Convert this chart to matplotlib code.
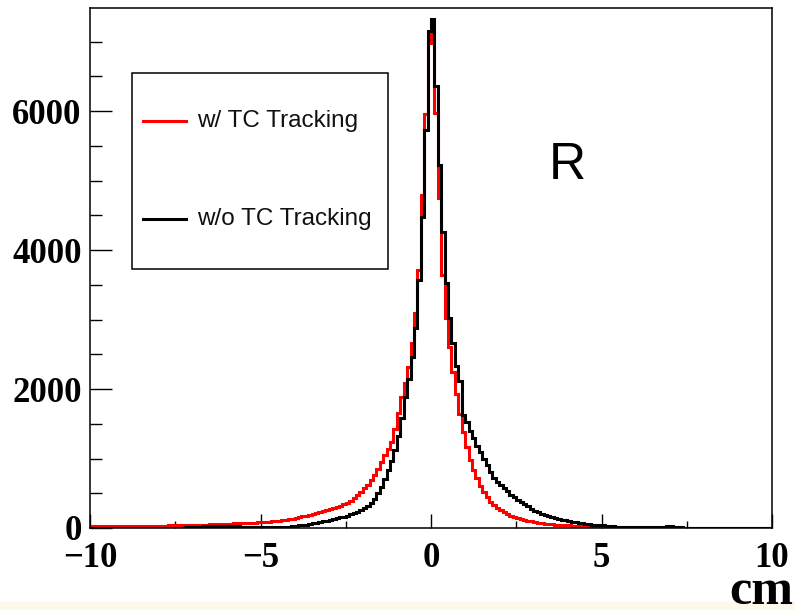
import numpy as np
import matplotlib
matplotlib.use("Agg")
import matplotlib.pyplot as plt
from matplotlib.patches import Rectangle
from matplotlib.lines import Line2D
from matplotlib.ticker import MultipleLocator

# Residual distribution, 200 bins of 0.1 cm over [-10, 10]
bin_lo, bin_hi, n_bins = -10.0, 10.0, 200

# Counts without TC tracking (black), bins ordered from -10 to +10
counts_without_tc = [
    2, 1, 2, 1, 2, 3, 1, 2, 2, 3,
    2, 3, 2, 3, 4, 2, 3, 4, 3, 4,
    4, 5, 4, 6, 5, 6, 7, 6, 8, 9,
    10, 12, 14, 22, 28, 30, 26, 24, 22, 20,
    28, 32, 30, 22, 18, 17, 18, 16, 17, 18,
    18, 17, 19, 18, 20, 19, 21, 20, 18, 22,
    30, 38, 43, 50, 58, 67, 76, 85, 95, 105,
    120, 130, 142, 153, 165, 178, 195, 212, 232, 255,
    285, 320, 362, 420, 500, 590, 700, 830, 960, 1120,
    1320, 1580, 1880, 2150, 2460, 2880, 3570, 4480, 5730, 7155,
    7330, 6360, 5230, 4260, 3530, 3020, 2660, 2330, 2120, 1630,
    1520, 1400, 1300, 1180, 1090, 990, 900, 800, 720, 665,
    615, 575, 530, 480, 440, 405, 370, 340, 310, 280,
    250, 225, 205, 188, 170, 155, 143, 132, 122, 112,
    102, 92, 83, 75, 68, 61, 55, 50, 46, 42,
    37, 32, 28, 24, 20, 17, 15, 14, 13, 12,
    11, 12, 10, 11, 9, 10, 8, 9, 12, 22,
    24, 10, 7, 8, 6, 7, 5, 6, 5, 4,
    5, 4, 4, 3, 4, 3, 3, 4, 2, 3,
    3, 2, 2, 3, 2, 1, 2, 2, 1, 2,
]

# Counts with TC tracking (red), bins ordered from -10 to +10
counts_with_tc = [
    28, 30, 27, 29, 31, 28, 30, 29, 31, 30,
    30, 32, 31, 29, 33, 31, 32, 34, 33, 32,
    33, 35, 34, 36, 35, 37, 36, 38, 39, 40,
    41, 43, 45, 47, 50, 52, 54, 56, 58, 60,
    61, 63, 65, 67, 69, 71, 73, 76, 79, 82,
    86, 89, 93, 97, 101, 106, 112, 118, 126, 136,
    145, 155, 166, 178, 190, 203, 215, 228, 240, 255,
    268, 282, 298, 318, 340, 365, 395, 430, 470, 520,
    570, 620, 690, 760, 850, 950, 1050, 1140, 1240, 1420,
    1650, 1880, 2080, 2320, 2662, 3094, 3712, 4791, 5957, 6978,
    7122, 5971, 4748, 3640, 3022, 2604, 2250, 1930, 1640, 1380,
    1160, 980, 840, 720, 610, 520, 445, 380, 325, 285,
    255, 230, 200, 178, 158, 142, 130, 118, 106, 95,
    86, 78, 70, 63, 57, 52, 48, 44, 41, 38,
    36, 34, 33, 31, 30, 29, 27, 26, 24, 22,
    18, 12, 7, 6, 6, 5, 5, 4, 4, 4,
    3, 4, 3, 3, 2, 3, 2, 3, 2, 2,
    2, 2, 1, 2, 2, 1, 2, 1, 1, 2,
    1, 1, 2, 1, 1, 1, 0, 1, 1, 1,
    1, 0, 1, 1, 0, 1, 0, 1, 0, 1,
]

x_range = (-10, 10)
y_range = (0, 7490)
x_major, x_minor = 5, 2.5
y_major, y_minor = 2000, 500
legend_labels = ["w/ TC Tracking", "w/o TC Tracking"]
legend_colors = ["#ff0000", "#000000"]
panel_tag = "R"
x_unit = "cm"

W, H, DPI = 795, 610, 100
fig = plt.figure(figsize=(W / DPI, H / DPI), dpi=DPI)
fig.patch.set_facecolor("white")

# pale strip along the bottom of the canvas
fig.patches.append(Rectangle((0, 0), 1, 8 / H, transform=fig.transFigure,
                             facecolor="#fdf8e9", edgecolor="none", zorder=0))

ax_l, ax_r, ax_b, ax_t = 90, 772, 528, 7.5
ax = fig.add_axes([ax_l / W, (H - ax_b) / H, (ax_r - ax_l) / W, (ax_b - ax_t) / H])

edges = np.linspace(bin_lo, bin_hi, n_bins + 1)
ax.stairs(counts_with_tc, edges, baseline=None, color=legend_colors[0], lw=2.2, zorder=3)
ax.stairs(counts_without_tc, edges, baseline=None, color=legend_colors[1], lw=2.2, zorder=4)

ax.set_xlim(*x_range)
ax.set_ylim(*y_range)

for s in ax.spines.values():
    s.set_linewidth(1.1)
    s.set_color("black")
    s.set_zorder(5)

ax.xaxis.set_major_locator(MultipleLocator(x_major))
ax.xaxis.set_minor_locator(MultipleLocator(x_minor))
ax.yaxis.set_major_locator(MultipleLocator(y_major))
ax.yaxis.set_minor_locator(MultipleLocator(y_minor))

ax.tick_params(axis="x", which="major", direction="in", length=10, width=1.0, pad=10,
               top=False, bottom=True)
ax.tick_params(axis="x", which="minor", direction="in", length=5, width=1.0,
               top=False, bottom=True)
ax.tick_params(axis="y", which="major", direction="in", length=16, width=1.0, pad=6,
               left=True, right=False)
ax.tick_params(axis="y", which="minor", direction="in", length=8.5, width=1.0,
               left=True, right=False)

for lab in ax.get_xticklabels() + ax.get_yticklabels():
    lab.set_fontfamily("Liberation Serif")
    lab.set_fontweight("bold")
    lab.set_fontsize(25)

# unit label under the right end of the x axis
fig.text(793 / W, (H - 604) / H, x_unit, ha="right", va="baseline",
         family="Liberation Serif", weight="bold", size=36)

# panel tag
def to_axes(px, py):
    return (px - ax_l) / (ax_r - ax_l), (ax_b - py) / (ax_b - ax_t)

tx, ty = to_axes(549, 179)
ax.text(tx, ty, panel_tag, transform=ax.transAxes, ha="left", va="baseline",
        family="Liberation Sans", size=37, color="black")

# legend box
bx0, by0 = to_axes(132, 269)
bx1, by1 = to_axes(388, 73)
ax.add_patch(Rectangle((bx0, by0), bx1 - bx0, by1 - by0, transform=ax.transAxes,
                       facecolor="white", edgecolor="black", lw=1.1, zorder=6))
for label, color, py in zip(legend_labels, legend_colors, [121, 219]):
    lx0, ly = to_axes(143, py)
    lx1, _ = to_axes(186, py)
    ax.add_line(Line2D([lx0, lx1], [ly, ly], transform=ax.transAxes,
                       color=color, lw=2.2, zorder=7))
    txx, _ = to_axes(197, py)
    ax.text(txx, ly, label, transform=ax.transAxes, ha="left", va="center",
            family="Liberation Sans", size=17.5, color="#111111", zorder=7)

fig.savefig("out.png", dpi=DPI)
